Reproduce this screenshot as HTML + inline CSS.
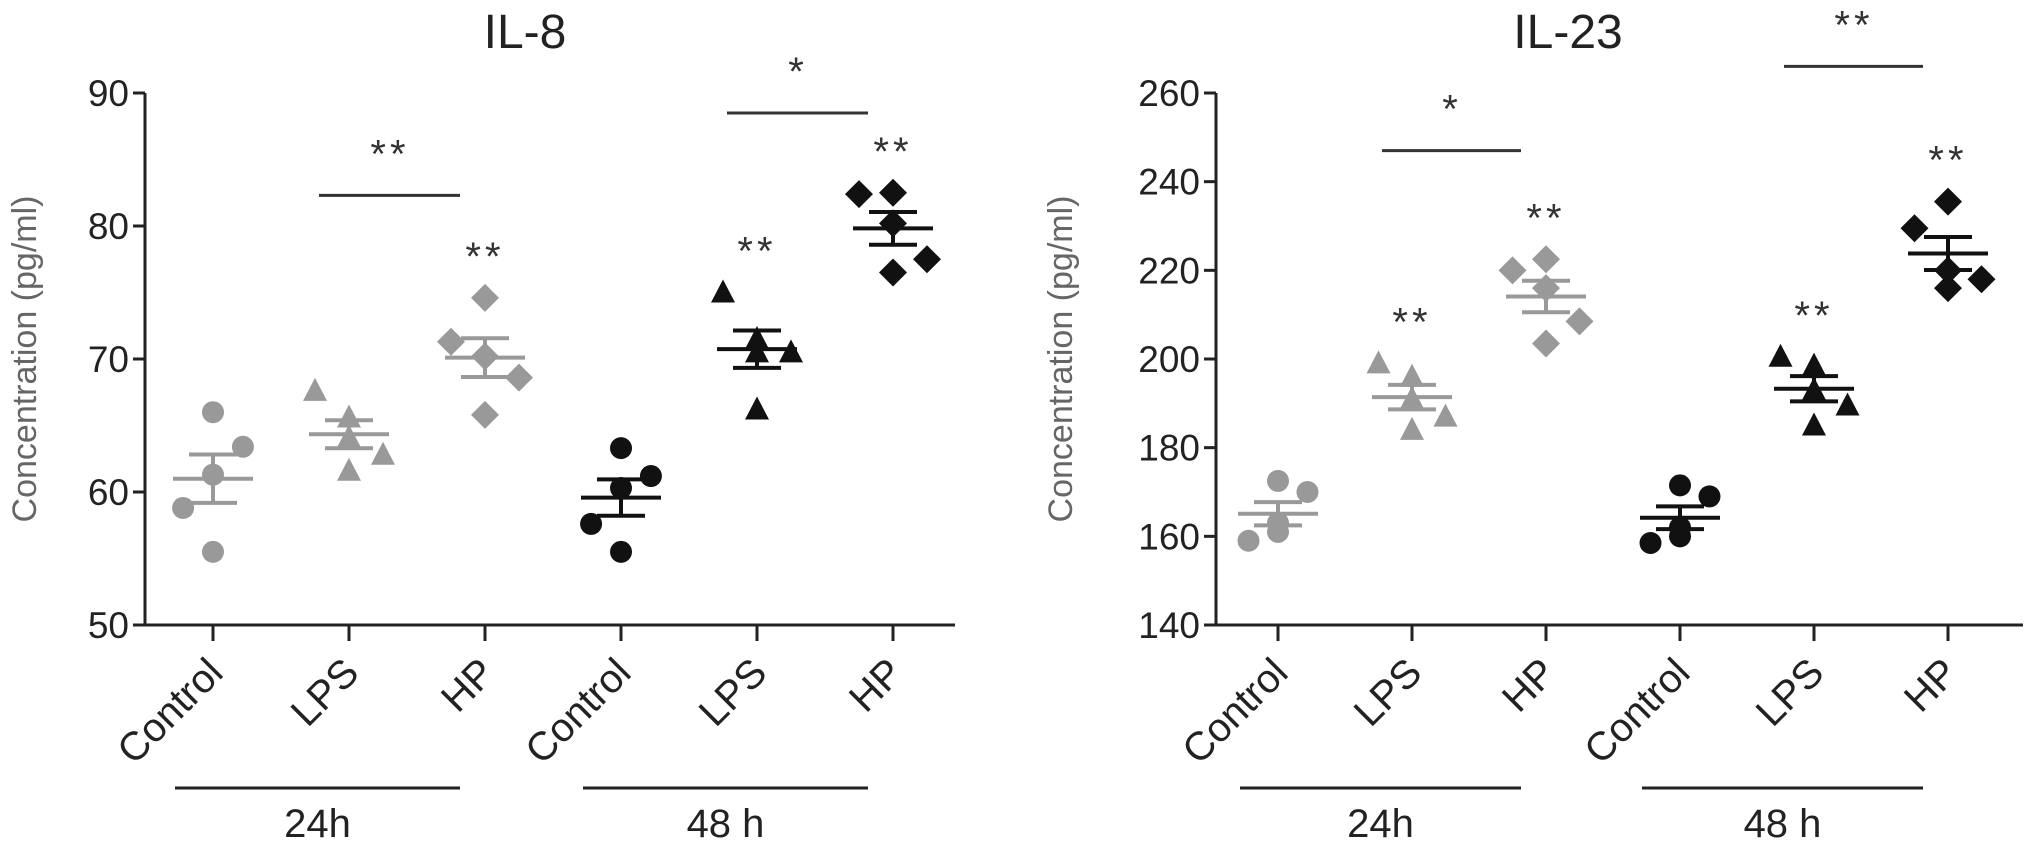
<!DOCTYPE html>
<html><head><meta charset="utf-8">
<style>
html,body{margin:0;padding:0;background:#fff;}
svg{display:block;font-family:"Liberation Sans",sans-serif;}
</style></head>
<body>
<svg id="chart" width="2031" height="853" viewBox="0 0 2031 853" xmlns="http://www.w3.org/2000/svg"></svg>
<script>
const categories = ["Control","LPS","HP","Control","LPS","HP"];
const groupLabels = ["24h","48 h"];
// IL-8 values per group
const il8Ctrl24 = [66.0,63.4,61.3,58.8,55.5];
const il8Lps24 = [67.6,65.6,64.1,62.8,61.6];
const il8Hp24 = [74.6,71.3,70.2,68.6,65.8];
const il8Ctrl48 = [63.3,61.2,60.3,57.6,55.5];
const il8Lps48 = [75.0,70.5,71.5,70.5,66.2];
const il8Hp48 = [82.5,82.4,80.2,77.5,76.5];
const il8Ticks = [50,60,70,80,90];
// IL-23 values per group
const il23Ctrl24 = [172.5,170.0,163.0,159.0,161.0];
const il23Lps24 = [199.0,196.0,191.0,187.0,184.0];
const il23Hp24 = [222.5,220.0,216.0,208.5,203.5];
const il23Ctrl48 = [171.5,169.0,162.0,158.5,160.0];
const il23Lps48 = [200.5,198.5,193.0,189.5,185.0];
const il23Hp48 = [235.5,229.5,220.0,218.0,216.0];
const il23Ticks = [140,160,180,200,220,240,260];
// significance annotations
const il8GroupStars = ["","","**","","**","**"];
const il23GroupStars = ["","**","**","","**","**"];

const jitter = [[0,0.22,0,-0.22,0],[-0.25,0,0,0.25,0],[0,-0.25,0,0.25,0]];
const NS="http://www.w3.org/2000/svg";
const svg=document.getElementById('chart');
function mk(tag,attrs,parent){const e=document.createElementNS(NS,tag);for(const k in attrs)e.setAttribute(k,attrs[k]);(parent||svg).appendChild(e);return e;}

function drawPanel(cfg){
  const g=mk('g',{});
  
  
  const yTop=93,yBot=625,ax=cfg.ax;
  const lo=cfg.ticks[0],hi=cfg.ticks[cfg.ticks.length-1];
  const y=v=>yBot-(v-lo)/(hi-lo)*(yBot-yTop);
  const x=i=>cfg.x0+i*cfg.dx;
  const col=['#999','#999','#999','#111','#111','#111'];
  const ya=mk('line',{x1:ax,y1:yTop,x2:ax,y2:yBot,stroke:'#222','stroke-width':3},g);
  
  const xa=mk('line',{x1:ax-12,y1:yBot,x2:cfg.axEnd,y2:yBot,stroke:'#222','stroke-width':3},g);
  
  cfg.ticks.forEach(t=>{
    mk('line',{x1:ax-12,y1:y(t),x2:ax,y2:y(t),stroke:'#222','stroke-width':3},g);
    const tl=mk('text',{x:ax-16,y:y(t)+13,'text-anchor':'end','font-size':37,fill:'#222'},g);
    tl.textContent=t;
    
  });
  const yl=mk('text',{x:0,y:0,transform:`translate(${cfg.ylx},359) rotate(-90)`,'text-anchor':'middle','font-size':34,fill:'#666'},g);
  yl.textContent='Concentration (pg/ml)';
  
  const tt=mk('text',{x:cfg.titleX,y:48,'text-anchor':'middle','font-size':48,fill:'#222'},g);
  tt.textContent=cfg.title;
  
  categories.forEach((c,i)=>{
    mk('line',{x1:x(i),y1:yBot,x2:x(i),y2:yBot+16,stroke:'#222','stroke-width':3},g);
    const lab=mk('text',{x:0,y:0,transform:`translate(${x(i)+12},${yBot+50}) rotate(-45)`,'text-anchor':'end','font-size':40,fill:'#222'},g);
    lab.textContent=c;
    
  });
  groupLabels.forEach((gl,k)=>{
    const xs=x(k*3)-38,xe=x(k*3+2)-25;
    const ln=mk('line',{x1:xs,y1:788,x2:xe,y2:788,stroke:'#222','stroke-width':3},g);
    
    const t=mk('text',{x:(xs+xe)/2,y:837,'text-anchor':'middle','font-size':40,fill:'#222'},g);
    t.textContent=gl;
    
  });
  cfg.series.forEach((vals,i)=>{
    const sg=mk('g',{},g);
    
    
    const shape=i%3,c=col[i];
    vals.forEach((v,j)=>{
      const px=x(i)+jitter[shape][j]*cfg.dx,py=y(v);let m;
      if(shape===0)m=mk('circle',{cx:px,cy:py,r:11,fill:c},sg);
      else if(shape===1)m=mk('polygon',{points:`${px},${py-13} ${px+12},${py+10} ${px-12},${py+10}`,fill:c},sg);
      else m=mk('polygon',{points:`${px},${py-14} ${px+14},${py} ${px},${py+14} ${px-14},${py}`,fill:c},sg);
      
    });
    const n=vals.length,mean=vals.reduce((a,b)=>a+b,0)/n;
    const sd=Math.sqrt(vals.reduce((a,b)=>a+(b-mean)**2,0)/(n-1)),sem=sd/Math.sqrt(n);
    const ml=mk('line',{x1:x(i)-40,y1:y(mean),x2:x(i)+40,y2:y(mean),stroke:c,'stroke-width':4},sg);
    
    mk('line',{x1:x(i),y1:y(mean+sem),x2:x(i),y2:y(mean-sem),stroke:c,'stroke-width':4},sg);
    mk('line',{x1:x(i)-24,y1:y(mean+sem),x2:x(i)+24,y2:y(mean+sem),stroke:c,'stroke-width':4},sg);
    mk('line',{x1:x(i)-24,y1:y(mean-sem),x2:x(i)+24,y2:y(mean-sem),stroke:c,'stroke-width':4},sg);
    const st=cfg.stars[i];
    if(st){const top=Math.max(...vals);
      const s=mk('text',{x:x(i),y:y(top)-28,'text-anchor':'middle','font-size':40,fill:'#333','letter-spacing':4},sg);
      s.textContent=st;}
  });
  cfg.brackets.forEach(b=>{
    const ln=mk('line',{x1:x(b.a)-30,y1:y(b.v),x2:x(b.b)-25,y2:y(b.v),stroke:'#333','stroke-width':3},g);
    
    const s=mk('text',{x:(x(b.a)+x(b.b))/2-27,y:y(b.v)-28,'text-anchor':'middle','font-size':40,fill:'#333','letter-spacing':4},g);
    s.textContent=b.s;
  });
}
drawPanel({name:'il8',title:'IL-8',titleX:525,ax:145,axEnd:955,x0:213,dx:136,ylx:36,ticks:il8Ticks,
  series:[il8Ctrl24,il8Lps24,il8Hp24,il8Ctrl48,il8Lps48,il8Hp48],stars:il8GroupStars,
  brackets:[{a:1,b:2,v:82.3,s:'**'},{a:4,b:5,v:88.5,s:'*'}]});
drawPanel({name:'il23',title:'IL-23',titleX:1568,ax:1216,axEnd:2023,x0:1278,dx:134,ylx:1072,ticks:il23Ticks,
  series:[il23Ctrl24,il23Lps24,il23Hp24,il23Ctrl48,il23Lps48,il23Hp48],stars:il23GroupStars,
  brackets:[{a:1,b:2,v:247,s:'*'},{a:4,b:5,v:266,s:'**'}]});
</script>
</body></html>
